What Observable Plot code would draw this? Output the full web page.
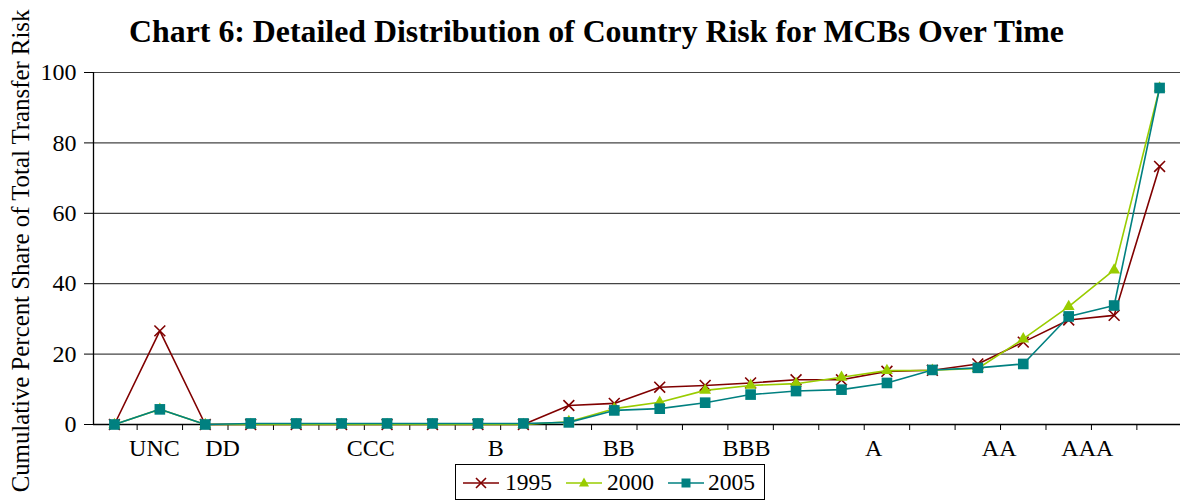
<!DOCTYPE html>
<html>
<head>
<meta charset="utf-8">
<script src="https://cdn.jsdelivr.net/npm/d3@7"></script>
<script src="https://cdn.jsdelivr.net/npm/@observablehq/plot@0.6"></script>
<style>
  html, body { margin: 0; padding: 0; background: #fff; }
  #wrap { position: relative; width: 1180px; height: 502px; overflow: hidden; font-family: 'Liberation Serif', 'Times New Roman', serif; color: #000; }
  #title { position: absolute; left: 596.5px; top: 17px; transform: translateX(-50%); font-weight: bold; font-size: 31px; line-height: 31px; white-space: nowrap; }
  #chart { position: absolute; left: 0; top: 62px; }
  #ylabel { position: absolute; left: 19.5px; top: 251px; transform: translate(-50%, -50%) rotate(-90deg); font-size: 24.5px; white-space: nowrap; line-height: 25px; }
  #legend { position: absolute; left: 455px; top: 464px; width: 308px; height: 34px; border: 1px solid #000; }
  .sw { position: absolute; top: 0; }
  .lt { position: absolute; top: 5px; font-size: 23.5px; line-height: 24px; }
</style>
</head>
<body>
<div id="wrap">
  <div id="title"></div>
  <div id="ylabel"></div>
  <div id="chart"></div>
  <div id="legend"></div>
</div>
<script>
// ---- data ----
const titleText = "Chart 6: Detailed Distribution of Country Risk for MCBs Over Time";
const yAxisTitle = "Cumulative Percent Share of Total Transfer Risk";
const seriesNames = ["1995", "2000", "2005"];
const seriesColors = ["#800000", "#99CC00", "#008080"];
const y1995 = [0, 26.6, 0, 0, 0, 0, 0, 0, 0, 0, 5.4, 6.0, 10.6, 11.1, 11.8, 12.7, 12.7, 15.1, 15.4, 17.2, 23.4, 29.7, 31.0, 73.3];
const y2000 = [0, 4.3, 0, 0, 0, 0, 0, 0, 0, 0, 0.8, 4.5, 6.3, 9.7, 11.1, 11.6, 13.4, 15.3, 15.4, 15.9, 24.3, 33.5, 43.9, 95.6];
const y2005 = [0, 4.3, 0, 0.3, 0.3, 0.3, 0.3, 0.3, 0.3, 0.3, 0.6, 4.0, 4.5, 6.2, 8.5, 9.5, 9.9, 11.8, 15.5, 16.1, 17.2, 30.7, 33.8, 95.6];
const ratingLabels = ["UNC", "DD", "CCC", "B", "BB", "BBB", "A", "AA", "AAA"];
const ratingLabelPos = [0.88, 2.38, 5.64, 8.39, 11.1, 13.91, 16.71, 19.47, 21.41];
const categoryBoundaries = [0.5, 1.5, 2.5, 3.5, 4.5, 5.5, 6.5, 7.5, 8.5, 9.5, 10.5, 11.5, 12.5, 13.5, 14.5, 15.5, 16.5, 17.5, 18.5, 19.5, 20.5, 21.5, 22.5];
const yTicks = [0, 20, 40, 60, 80, 100];

// ---- text sizing (fit measured widths of the reference) ----
const fam = "'Liberation Serif', 'Times New Roman', serif";
const ctx = document.createElement("canvas").getContext("2d");
function fitSize(text, weight, target) {
  ctx.font = `${weight} 100px ${fam}`;
  const w = ctx.measureText(text).width;
  return w > 0 ? 100 * target / w : null;
}

const titleEl = document.getElementById("title");
titleEl.textContent = titleText;
const ts = fitSize(titleText, "bold", 937);
if (ts && ts > 26 && ts < 36) { titleEl.style.fontSize = ts + "px"; titleEl.style.lineHeight = ts + "px"; titleEl.style.top = (43 - 0.84 * ts) + "px"; }

const ylEl = document.getElementById("ylabel");
ylEl.textContent = yAxisTitle;
const ys = fitSize(yAxisTitle, "normal", 484);
if (ys && ys > 21 && ys < 28) { ylEl.style.fontSize = ys + "px"; }

// ---- build ----
const toRows = arr => arr.map((v, i) => ({i, v}));
const rows = [y1995, y2000, y2005].map(toRows);
const xDomain = [-0.46, 23.46];
const labelMap = new Map(ratingLabelPos.map((p, k) => [p, ratingLabels[k]]));

const symbols = ["times", "triangle", "square"];
const radii = [5, 4.4, 6];
const seriesMarks = [];
rows.forEach((data, k) => {
  seriesMarks.push(Plot.line(data, {x: "i", y: "v", stroke: seriesColors[k], strokeWidth: 1.6}));
  if (symbols[k] === "times") {
    seriesMarks.push(Plot.dot(data, {x: "i", y: "v", symbol: "times", r: radii[k], stroke: seriesColors[k], strokeWidth: 1.6}));
  } else {
    seriesMarks.push(Plot.dot(data, {x: "i", y: "v", symbol: symbols[k], r: radii[k], fill: seriesColors[k], stroke: "none"}));
  }
});

const chart = Plot.plot({
  width: 1180,
  height: 400,
  marginTop: 10,
  marginBottom: 38,
  marginLeft: 93,
  marginRight: 0,
  style: {fontFamily: fam, fontSize: "24px", color: "#000", background: "transparent", overflow: "visible"},
  x: {domain: xDomain},
  y: {domain: [0, 100]},
  marks: [
    Plot.ruleY(yTicks.filter(d => d > 0), {stroke: "#444", strokeWidth: 1.2}),
    Plot.axisY({ticks: yTicks, tickSize: 9, tickPadding: 8, label: null, tickFormat: d => String(d), fontSize: 24}),
    Plot.axisX({ticks: categoryBoundaries, tickSize: 6, tickFormat: () => "", label: null}),
    Plot.axisX({ticks: ratingLabelPos, tickSize: 0, tickPadding: 14, tickFormat: d => labelMap.get(d), label: null, fontSize: 24}),
    Plot.ruleY([0], {stroke: "#000", strokeWidth: 1.3}),
    Plot.ruleX([xDomain[0]], {stroke: "#000", strokeWidth: 1.3}),
    ...seriesMarks
  ]
});
document.getElementById("chart").appendChild(chart);

// ---- legend ----
const legend = document.getElementById("legend");
const swLeft = [6, 109, 211];
const txtLeft = [49, 151, 252];
seriesNames.forEach((name, k) => {
  const ns = "http://www.w3.org/2000/svg";
  const s = document.createElementNS(ns, "svg");
  s.setAttribute("width", 38); s.setAttribute("height", 34);
  s.setAttribute("class", "sw");
  s.style.left = swLeft[k] + "px";
  const ln = document.createElementNS(ns, "line");
  ln.setAttribute("x1", 1); ln.setAttribute("x2", 37); ln.setAttribute("y1", 18); ln.setAttribute("y2", 18);
  ln.setAttribute("stroke", seriesColors[k]); ln.setAttribute("stroke-width", 1.6);
  s.appendChild(ln);
  const p = document.createElementNS(ns, "path");
  if (k === 0) {
    p.setAttribute("d", "M14,13L24,23M14,23L24,13");
    p.setAttribute("stroke", seriesColors[k]); p.setAttribute("stroke-width", 1.6); p.setAttribute("fill", "none");
  } else if (k === 1) {
    p.setAttribute("d", "M19,12.5L24,21.5L14,21.5Z");
    p.setAttribute("fill", seriesColors[k]);
  } else {
    p.setAttribute("d", "M14.5,13.5H23.5V22.5H14.5Z");
    p.setAttribute("fill", seriesColors[k]);
  }
  s.appendChild(p);
  legend.appendChild(s);
  const t = document.createElement("div");
  t.className = "lt";
  t.style.left = txtLeft[k] + "px";
  t.textContent = name;
  legend.appendChild(t);
});
</script>
</body>
</html>
